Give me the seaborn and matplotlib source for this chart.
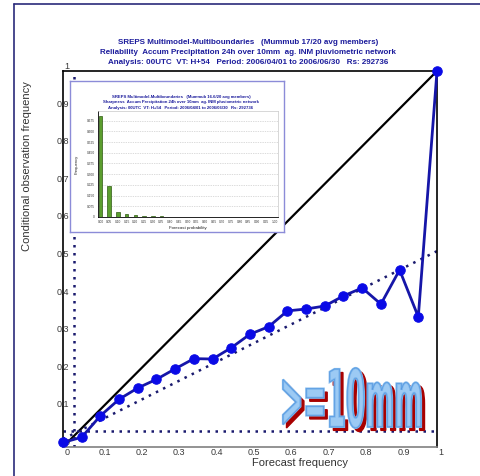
import matplotlib
matplotlib.use("Agg")
import matplotlib.pyplot as plt
import matplotlib.transforms as mtransforms
import pandas as pd
import seaborn as sns
from matplotlib.font_manager import FontProperties
from matplotlib.lines import Line2D
from matplotlib.patches import PathPatch
from matplotlib.textpath import TextPath

# ---- data -------------------------------------------------------------
prob_bins = [0.00, 0.05, 0.10, 0.15, 0.20, 0.25, 0.30, 0.35, 0.40, 0.45, 0.50,
             0.55, 0.60, 0.65, 0.70, 0.75, 0.80, 0.85, 0.90, 0.95, 1.00]
obs_freq = [0.012, 0.026, 0.083, 0.127, 0.157, 0.180, 0.208, 0.235, 0.234, 0.264, 0.300,
            0.320, 0.362, 0.367, 0.375, 0.402, 0.423, 0.380, 0.471, 0.346, 1.000]
prob_labels = ["0.00", "0.05", "0.10", "0.15", "0.20", "0.25", "0.30", "0.35", "0.40",
               "0.45", "0.50", "0.55", "0.60", "0.65", "0.70", "0.75", "0.80", "0.85",
               "0.90", "0.95", "1.00"]
sharp_freq = [0.708, 0.219, 0.035, 0.021, 0.011, 0.007, 0.005, 0.004, 0.003, 0.003, 0.002,
              0.002, 0.002, 0.001, 0.001, 0.001, 0.001, 0.001, 0.001, 0.001, 0.001]
fcst_clim = 0.03
obs_clim = 0.042

tick_vals = [0, 0.1, 0.2, 0.3, 0.4, 0.5, 0.6, 0.7, 0.8, 0.9, 1]
tick_labels = ["0", "0.1", "0.2", "0.3", "0.4", "0.5", "0.6", "0.7", "0.8", "0.9", "1"]
sharp_ticks = [0, 0.075, 0.15, 0.225, 0.3, 0.375, 0.45, 0.525, 0.6, 0.675]
sharp_tick_labels = ["0", "0.075", "0.150", "0.225", "0.300", "0.375", "0.450",
                     "0.525", "0.600", "0.675"]

title_lines = [
    "SREPS Multimodel-Multiboundaries   (Mummub 17/20 avg members)",
    "Reliability  Accum Precipitation 24h over 10mm  ag. INM pluviometric network",
    "Analysis: 00UTC  VT: H+54   Period: 2006/04/01 to 2006/06/30   Rs: 292736",
]
inset_title_lines = [
    "SREPS Multimodel-Multiboundaries   (Mummub 16.6/20 avg members)",
    "Sharpness  Accum Precipitation 24h over 10mm  ag. INM pluviometric network",
    "Analysis: 00UTC  VT: H+54   Period: 2006/04/01 to 2006/06/30   Rs: 292736",
]
threshold_label = ">=10mm"

# ---- style ------------------------------------------------------------
sns.set_theme(style="white")
plt.rcParams["font.family"] = ["Liberation Sans", "DejaVu Sans"]

W, H = 481, 476
fig = plt.figure(figsize=(W / 100, H / 100), dpi=100)
fig.patch.set_facecolor("white")


def fx(px):
    return px / W


def fy(py):
    return 1 - py / H


NAVY = "#1c1c9c"
DOT = "#1a1a6e"

# slide frame lines
fig.add_artist(Line2D([fx(14), fx(14)], [fy(4), 0], transform=fig.transFigure,
                      color="#2a2a7a", lw=1.2))
fig.add_artist(Line2D([fx(14), 1], [fy(4), fy(4)], transform=fig.transFigure,
                      color="#2a2a7a", lw=1.2))

# ---- reliability diagram ---------------------------------------------
ax = fig.add_axes([fx(63), fy(447), fx(437) - fx(63), fy(71) - fy(447)])
ax.set_facecolor("white")

ax.plot([0, 1], [0, 1], color="black", lw=1.6, zorder=2)
ax.plot([0, 1], [obs_clim / 2, (1 + obs_clim) / 2], color=DOT, lw=1.8,
        ls=(0, (1.0, 2.2)), zorder=2)
ax.axvline(fcst_clim, color=DOT, lw=1.8, ls=(0, (1.0, 2.2)), zorder=2)
ax.axhline(obs_clim, color=DOT, lw=1.8, ls=(0, (1.0, 2.2)), zorder=2)

rel = pd.DataFrame({"forecast": prob_bins, "observed": obs_freq})
sns.lineplot(data=rel, x="forecast", y="observed", ax=ax, color="#1616a8", lw=2.0,
             marker="o", markersize=6.8, markerfacecolor="#0a0ae6",
             markeredgecolor="#0a0ae6", clip_on=False, zorder=3)

ax.set_xlim(0, 1)
ax.set_ylim(0, 1)
ax.set_xticks(tick_vals)
ax.set_xticklabels(tick_labels)
ax.set_yticks(tick_vals)
ax.set_yticklabels(tick_labels)
ax.set_xlabel("")
ax.set_ylabel("")
ax.tick_params(axis="x", length=0, pad=0.5, labelsize=6.5, labelcolor="#3a3a3a")
ax.tick_params(axis="y", length=0, pad=-4.5, labelsize=6.5, labelcolor="#3a3a3a")
for lbl in ax.get_yticklabels():
    lbl.set_verticalalignment("bottom")
for lbl in ax.get_xticklabels():
    lbl.set_transform(lbl.get_transform() +
                      mtransforms.ScaledTranslation(4 / 100, 0, fig.dpi_scale_trans))
for side, sp in ax.spines.items():
    sp.set_visible(True)
    sp.set_linewidth(1.2)
    sp.set_color("#808080" if side == "bottom" else "black")

for i, line in enumerate(title_lines):
    fig.text(fx(248), fy(42 + 10 * i), line, ha="center", va="center",
             fontsize=5.8, fontweight="bold", color=NAVY)

fig.text(fx(27), fy(166), "Conditional observation frequency", rotation=90,
         ha="center", va="center", fontsize=8, color="#333333")
fig.text(fx(300), fy(463), "Forecast frequency", ha="center", va="center",
         fontsize=8, color="#333333")

# ---- sharpness inset --------------------------------------------------
box = fig.add_axes([fx(70), fy(232), fx(284) - fx(70), fy(81) - fy(232)])
box.set_facecolor("white")
box.set_xticks([])
box.set_yticks([])
for sp in box.spines.values():
    sp.set_visible(True)
    sp.set_color("#8c8cd8")
    sp.set_linewidth(1.0)

for i, line in enumerate(inset_title_lines):
    fig.text(fx(181), fy(97.5 + 5 * i), line, ha="center", va="center",
             fontsize=3.1, fontweight="bold", color=NAVY)

bars = fig.add_axes([fx(97.5), fy(217), fx(278) - fx(97.5), fy(111) - fy(217)])
bars.set_facecolor("white")
sharp = pd.DataFrame({"prob": prob_labels, "freq": sharp_freq})
sns.barplot(data=sharp, x="prob", y="freq", ax=bars, color="#5b9e2e", width=0.42,
            edgecolor="#2e5a12", linewidth=0.5, saturation=1)
bars.set_xlim(-0.35, 20.4)
bars.set_ylim(0, 0.742)
bars.set_yticks(sharp_ticks)
bars.set_yticklabels(sharp_tick_labels)
bars.yaxis.grid(True, color="#b8b8b8", lw=0.5, ls=(0, (1, 1.5)))
bars.set_axisbelow(True)
bars.tick_params(axis="both", length=1.2, width=0.4, pad=0.8, labelsize=2.3,
                 labelcolor="#333333")
bars.set_xlabel("Forecast probability", fontsize=3.2, labelpad=1.5, color="#222222")
bars.set_ylabel("Frequency", fontsize=3.0, labelpad=6, color="#222222")
for side, sp in bars.spines.items():
    sp.set_visible(True)
    sp.set_linewidth(0.6 if side in ("left", "bottom") else 0.5)
    sp.set_color("black" if side in ("left", "bottom") else "#c8c8c8")

# ---- threshold tag ----------------------------------------------------
tp = TextPath((0, 0), threshold_label, size=1,
              prop=FontProperties(family="DejaVu Sans", weight="bold"))
ext = tp.get_extents()
x0, x1 = fx(283), fx(421)
y0, y1 = fy(428), fy(368)
base = (mtransforms.Affine2D()
        .translate(-ext.x0, -ext.y0)
        .scale((x1 - x0) / ext.width, (y1 - y0) / ext.height))
shadow = PathPatch(tp, transform=base + mtransforms.Affine2D().translate(
                       x0 + fx(3.5), y0 - 3.5 / H) + fig.transFigure,
                   facecolor="#a80000", edgecolor="#a80000", lw=1.0, zorder=5)
front = PathPatch(tp, transform=base + mtransforms.Affine2D().translate(x0, y0) +
                  fig.transFigure,
                  facecolor="#9ccaf4", edgecolor="#7db6ec", lw=1.6, zorder=6)
inner = PathPatch(tp, transform=base + mtransforms.Affine2D().translate(x0, y0) +
                  fig.transFigure,
                  facecolor="none", edgecolor="#4a8fdc", lw=0.35, zorder=7)
fig.add_artist(shadow)
fig.add_artist(front)
fig.add_artist(inner)

fig.savefig("out.png", dpi=100)
